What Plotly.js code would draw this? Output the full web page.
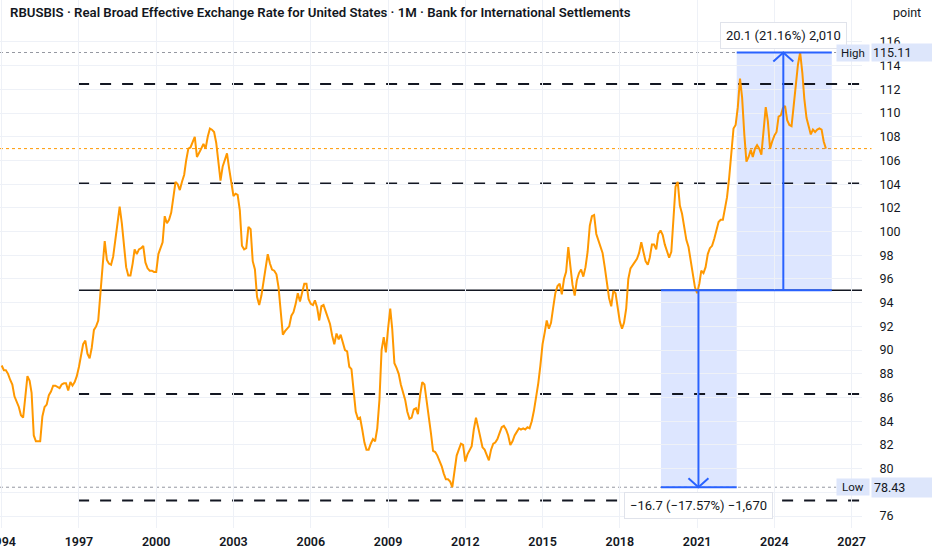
<!DOCTYPE html>
<html>
<head>
<meta charset="utf-8">
<script src="https://cdn.plot.ly/plotly-3.0.1.min.js"></script>
<style>
  html, body { margin: 0; padding: 0; background: #ffffff; }
  #chart { width: 932px; height: 550px; }
</style>
</head>
<body>
<div id="chart"></div>
<script>
// ---- Data: monthly values, January 1994 onward ----
const v1994 = [88.7, 88.3, 88.3, 88.0, 87.5, 87.1, 86.1, 85.7, 85.2, 84.5, 84.3, 86.0];
const v1995 = [87.8, 87.4, 86.4, 82.8, 82.3, 82.3, 82.3, 84.4, 85.2, 85.4, 86.2, 86.5];
const v1996 = [87.0, 87.0, 86.9, 86.8, 87.1, 87.2, 87.2, 86.6, 87.3, 87.0, 87.3, 87.8];
const v1997 = [88.6, 89.7, 90.5, 90.8, 89.7, 89.3, 90.2, 91.7, 92.0, 92.5, 94.5, 97.0];
const v1998 = [99.2, 97.6, 97.3, 97.2, 97.9, 99.3, 100.5, 102.1, 100.7, 98.5, 97.0, 96.3];
const v1999 = [96.3, 97.3, 98.5, 98.1, 98.5, 98.6, 98.8, 97.4, 96.9, 96.7, 96.7, 96.6];
const v2000 = [96.6, 98.1, 98.6, 99.1, 101.3, 100.7, 101.0, 101.6, 102.9, 104.2, 104.0, 103.5];
const v2001 = [104.2, 104.8, 106.0, 107.0, 107.1, 107.6, 108.0, 106.3, 106.6, 107.0, 107.4, 107.0];
const v2002 = [108.0, 108.7, 108.6, 108.4, 107.5, 105.9, 104.3, 105.5, 106.1, 106.6, 105.3, 104.0];
const v2003 = [103.0, 103.2, 103.1, 101.8, 98.8, 98.5, 98.6, 100.4, 100.2, 97.5, 96.8, 94.5];
const v2004 = [93.8, 94.6, 95.7, 97.0, 98.1, 97.3, 96.8, 96.7, 96.4, 95.3, 93.4, 91.3];
const v2005 = [91.6, 91.8, 92.0, 92.9, 93.2, 93.9, 94.8, 94.1, 94.8, 95.6, 95.6, 94.3];
const v2006 = [93.9, 93.8, 94.2, 93.6, 92.5, 93.7, 93.8, 93.2, 92.6, 92.2, 91.2, 90.5];
const v2007 = [91.4, 90.9, 91.3, 90.5, 90.0, 89.9, 88.6, 88.4, 86.8, 84.8, 84.2, 84.3];
const v2008 = [83.3, 82.2, 81.6, 81.6, 82.1, 82.5, 82.3, 83.4, 85.8, 90.0, 91.1, 89.8];
const v2009 = [91.8, 93.5, 91.8, 88.9, 88.5, 88.0, 87.1, 86.4, 85.8, 84.8, 84.2, 84.3];
const v2010 = [85.0, 85.1, 84.6, 86.2, 87.3, 87.1, 85.8, 84.8, 83.0, 81.5, 81.4, 81.1];
const v2011 = [80.7, 80.2, 79.6, 79.1, 79.1, 78.9, 78.43, 79.9, 81.1, 81.6, 82.1, 82.0];
const v2012 = [80.6, 81.2, 81.5, 81.9, 83.3, 84.3, 83.5, 82.7, 81.8, 81.6, 81.2, 80.7];
const v2013 = [81.6, 82.1, 82.2, 82.5, 83.0, 83.5, 83.6, 83.3, 82.8, 82.0, 82.3, 82.8];
const v2014 = [83.1, 83.4, 83.3, 83.4, 83.3, 83.5, 83.4, 84.0, 84.9, 85.9, 87.2, 88.7];
const v2015 = [90.5, 91.5, 92.5, 91.8, 92.3, 93.6, 94.8, 95.4, 95.6, 94.7, 96.0, 96.6];
const v2016 = [98.7, 97.0, 95.5, 94.6, 95.9, 96.5, 96.8, 96.2, 97.0, 98.3, 100.5, 101.3];
const v2017 = [101.4, 99.8, 99.3, 98.7, 98.2, 97.0, 95.6, 94.4, 93.7, 95.0, 94.8, 93.5];
const v2018 = [92.4, 91.8, 92.3, 93.5, 96.0, 96.9, 97.2, 97.5, 97.7, 98.2, 99.1, 98.3];
const v2019 = [97.5, 97.2, 97.8, 98.9, 98.9, 98.5, 99.8, 100.1, 99.7, 98.9, 98.3, 97.8];
const v2020 = [98.3, 101.0, 103.8, 104.2, 102.2, 101.5, 100.4, 99.3, 98.7, 97.6, 96.5, 95.3];
const v2021 = [94.8, 95.6, 96.7, 96.5, 97.0, 98.1, 98.6, 98.8, 99.4, 100.1, 100.8, 101.0];
const v2022 = [101.0, 102.0, 102.9, 104.6, 106.8, 108.7, 109.0, 110.5, 112.9, 111.3, 108.2, 105.9];
const v2023 = [106.3, 106.9, 106.3, 107.0, 107.3, 107.0, 106.5, 108.8, 110.5, 109.3, 107.0, 107.6];
const v2024 = [108.1, 108.4, 109.7, 109.8, 110.4, 110.6, 109.4, 109.0, 108.9, 110.6, 112.6, 114.1];
const v2025 = [115.11, 113.4, 111.2, 109.6, 108.9, 108.2, 108.6, 108.4, 108.6, 108.7, 108.6, 107.6];
const v2026 = [107.0];

// Horizontal levels drawn on the chart
const dashedLevels = [112.45, 104.05, 86.3, 77.3];
const solidLevel = 95.05;
const highValue = 115.11;
const lowValue = 78.43;
const lastValue = 107.0;

// Measurement boxes (months since Jan 1994)
const upBox = { m0: 342.5, m1: 386.8, arrowM: 364.2, from: 95.05, to: 115.11, label: "20.1 (21.16%) 2,010" };
const downBox = { m0: 307.2, m1: 342.5, arrowM: 324.6, from: 95.05, to: 78.43, label: "\u221216.7 (\u221217.57%) \u22121,670" };

const yTicks = [76, 78, 80, 82, 84, 86, 88, 90, 92, 94, 96, 98, 100, 102, 104, 106, 108, 110, 112, 114, 116];
const titleText = "RBUSBIS \u00b7 Real Broad Effective Exchange Rate for United States \u00b7 1M \u00b7 Bank for International Settlements";

// ---- Build ----
const values = [].concat(v1994, v1995, v1996, v1997, v1998, v1999, v2000, v2001, v2002, v2003,
  v2004, v2005, v2006, v2007, v2008, v2009, v2010, v2011, v2012, v2013, v2014, v2015, v2016,
  v2017, v2018, v2019, v2020, v2021, v2022, v2023, v2024, v2025, v2026);

function fmt(ms) { return new Date(ms).toISOString().slice(0, 19).replace('T', ' '); }
function monthDate(m) {
  const whole = Math.floor(m);
  const base = Date.UTC(1994, whole, 1);
  const next = Date.UTC(1994, whole + 1, 1);
  return fmt(base + (m - whole) * (next - base));
}
const dates = values.map((v, i) => monthDate(i));

const BLUE = '#2962ff';
const INK = '#131722';
const LABEL_BG = '#dde6fb';

const shapes = [];
// box fills
[upBox, downBox].forEach(b => {
  shapes.push({ type: 'rect', xref: 'x', yref: 'y', x0: monthDate(b.m0), x1: monthDate(b.m1),
    y0: b.from, y1: b.to, fillcolor: 'rgba(41,98,255,0.16)', line: { width: 0 }, layer: 'below' });
});
// dashed levels
dashedLevels.forEach(l => {
  shapes.push({ type: 'line', xref: 'x', yref: 'y', x0: monthDate(35.6), x1: '2028-01-01', y0: l, y1: l,
    line: { color: INK, width: 2, dash: '11px,11px' }, layer: 'below' });
});
// solid level
shapes.push({ type: 'line', xref: 'x', yref: 'y', x0: monthDate(35.6), x1: '2028-01-01', y0: solidLevel, y1: solidLevel,
  line: { color: INK, width: 1.6 }, layer: 'below' });
// high / low dotted lines
[highValue, lowValue].forEach(l => {
  shapes.push({ type: 'line', xref: 'paper', yref: 'y', x0: 0, x1: 0.97, y0: l, y1: l,
    line: { color: '#9598a1', width: 1, dash: 'dot' }, layer: 'below' });
});
// last value price line
shapes.push({ type: 'line', xref: 'paper', yref: 'y', x0: 0, x1: 1.011, y0: lastValue, y1: lastValue,
  line: { color: '#ff9800', width: 1, dash: 'dot' }, layer: 'below' });
// box edges (horizontal) and arrows
[upBox, downBox].forEach(b => {
  [b.from, b.to].forEach(l => {
    shapes.push({ type: 'line', xref: 'x', yref: 'y', x0: monthDate(b.m0), x1: monthDate(b.m1), y0: l, y1: l,
      line: { color: BLUE, width: 2 } });
  });
  shapes.push({ type: 'line', xref: 'x', yref: 'y', x0: monthDate(b.arrowM), x1: monthDate(b.arrowM), y0: b.from, y1: b.to,
    line: { color: BLUE, width: 2 } });
  const up = b.to > b.from;
  shapes.push({ type: 'path', xsizemode: 'pixel', ysizemode: 'pixel', xref: 'x', yref: 'y',
    xanchor: monthDate(b.arrowM), yanchor: b.to,
    path: up ? 'M-10,-9 L0,0 L10,-9' : 'M-10,9 L0,0 L10,9',
    line: { color: BLUE, width: 2 } });
});

const annotations = [
  { xref: 'paper', yref: 'paper', x: 0, y: 1, xanchor: 'left', yanchor: 'top', xshift: 8, yshift: -3,
    text: titleText, showarrow: false, font: { size: 13.2, color: INK, weight: 600 } },
  { xref: 'paper', yref: 'paper', x: 1, y: 1, xanchor: 'left', yanchor: 'top', xshift: 29, yshift: -3,
    text: 'point', showarrow: false, font: { size: 12.5, color: INK } },
  // measurement labels
  { xref: 'x', yref: 'y', x: monthDate(upBox.arrowM), y: upBox.to, xanchor: 'center', yanchor: 'bottom', yshift: 4,
    text: upBox.label, showarrow: false, bgcolor: '#ffffff', bordercolor: '#e0e3eb', borderwidth: 1, borderpad: 5,
    font: { size: 13, color: INK } },
  { xref: 'x', yref: 'y', x: monthDate(downBox.arrowM), y: downBox.to, xanchor: 'center', yanchor: 'top', yshift: -5,
    text: downBox.label, showarrow: false, bgcolor: '#ffffff', bordercolor: '#e0e3eb', borderwidth: 1, borderpad: 5,
    font: { size: 13, color: INK } },
  // High / Low labels
  { xref: 'paper', yref: 'y', x: 0.97, y: highValue, xanchor: 'left', yanchor: 'middle', text: 'High', showarrow: false,
    bgcolor: LABEL_BG, borderpad: 1, width: 30, font: { size: 11.5, color: INK } },
  { xref: 'paper', yref: 'y', x: 1, y: highValue, xanchor: 'left', yanchor: 'middle', xshift: 9, text: '115.11', showarrow: false,
    bgcolor: LABEL_BG, borderpad: 1, width: 60, align: 'left', font: { size: 12.5, color: INK } },
  { xref: 'paper', yref: 'y', x: 0.97, y: lowValue, xanchor: 'left', yanchor: 'middle', text: 'Low', showarrow: false,
    bgcolor: LABEL_BG, borderpad: 1, width: 30, font: { size: 11.5, color: INK } },
  { xref: 'paper', yref: 'y', x: 1, y: lowValue, xanchor: 'left', yanchor: 'middle', xshift: 9, text: '78.43', showarrow: false,
    bgcolor: LABEL_BG, borderpad: 2, width: 60, align: 'left', font: { size: 12.5, color: INK } }
];

const trace = {
  x: dates, y: values, type: 'scatter', mode: 'lines',
  line: { color: '#ff9800', width: 2 }, hoverinfo: 'skip'
};

const layout = {
  width: 932, height: 550,
  margin: { l: 0, r: 70, t: 0, b: 22 },
  paper_bgcolor: '#ffffff', plot_bgcolor: '#ffffff',
  showlegend: false,
  font: { family: 'Roboto, "Noto Sans", sans-serif', color: INK, size: 12 },
  xaxis: {
    type: 'date', range: ['1993-12-08', '2027-05-28'],
    tick0: '1994-01-01', dtick: 'M36', tickformat: '%Y',
    showgrid: true, gridcolor: '#eef1f7', gridwidth: 1, zeroline: false, showline: false,
    ticks: 'outside', ticklen: 2, tickcolor: 'rgba(0,0,0,0)',
    ticklabeloverflow: 'allow',
    tickfont: { size: 12.5, color: INK, weight: 600 }
  },
  yaxis: {
    side: 'right', range: [74.99, 119.54], tickvals: yTicks,
    showgrid: true, gridcolor: '#eef1f7', gridwidth: 1, zeroline: false, showline: false,
    ticks: 'outside', ticklen: 14, tickcolor: 'rgba(0,0,0,0)',
    tickfont: { size: 12.5, color: INK }
  },
  shapes: shapes,
  annotations: annotations
};

Plotly.newPlot('chart', [trace], layout, { staticPlot: true, displayModeBar: false });
</script>
</body>
</html>
